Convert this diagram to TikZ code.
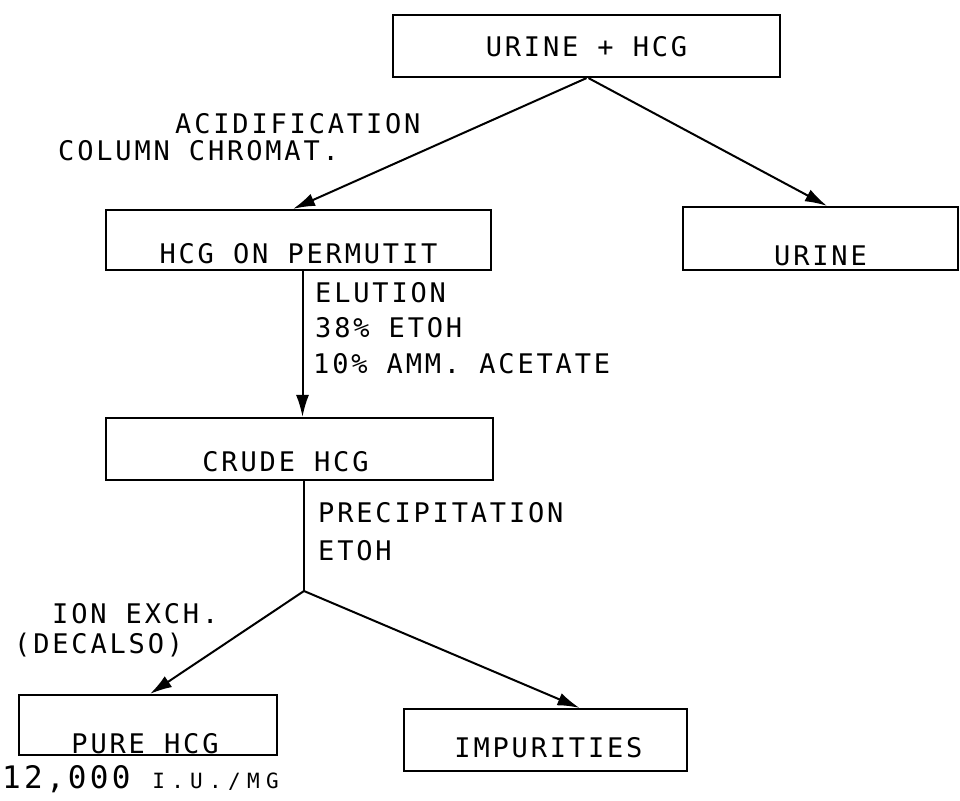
\documentclass[tikz,border=0pt]{standalone}
\usepackage{fontspec}
\newfontfamily\typer[LetterSpace=10.5]{DejaVu Sans Mono}
\newfontfamily\smalltyper[LetterSpace=30]{DejaVu Sans Mono}
\usetikzlibrary{arrows.meta,positioning}

\begin{document}
\begin{tikzpicture}[x=1pt, y=-1pt,
    every node/.style={font=\typer\fontsize{27}{32}\selectfont, inner sep=0pt},
    box/.style={draw, line width=2.2pt, rectangle},
    lbl/.style={anchor=base west},
    flow/.style={line width=2pt},
    feed/.style={flow, -{Latex[length=22pt,width=13pt]}}]
    \useasboundingbox (0,0) rectangle (960,800);

    % Boxes
    \node[box, minimum width=387pt, minimum height=62pt] (start) at (586.5,46) {};
    \node[box, minimum width=385pt, minimum height=60pt] (permutit) at (298.5,240) {};
    \node[box, minimum width=275pt, minimum height=63pt] (urine) at (820.5,238.5) {};
    \node[box, minimum width=387pt, minimum height=62pt] (crude) at (299.5,449) {};
    \node[box, minimum width=258pt, minimum height=60pt] (pure) at (148,725) {};
    \node[box, minimum width=283pt, minimum height=62pt] (impur) at (545.5,740) {};

    % Box texts
    \node[anchor=base] (starttxt) at ([yshift=22pt]start.south) {URINE + HCG};
    \node[anchor=base] (permutittxt) at ([yshift=8pt]permutit.south) {HCG ON PERMUTIT};
    \node[anchor=base] (urinetxt) at ([yshift=6pt]urine.south) {URINE};
    \node[anchor=base] (crudetxt) at ([xshift=-14pt,yshift=10pt]crude.south) {CRUDE HCG};
    \node[anchor=base] (puretxt) at ([xshift=-3pt,yshift=3pt]pure.south) {PURE HCG};
    \node[anchor=base] (impurtxt) at ([xshift=3pt,yshift=15pt]impur.south) {IMPURITIES};

    % Connectors
    \draw[feed] (start.south) -- ([xshift=-5.5pt]permutit.north);
    \draw[feed] ([xshift=2pt]start.south) -- ([xshift=6.5pt]urine.north);
    \draw[feed] ([xshift=4pt]permutit.south) -- ([xshift=4pt]permutit.south |- crude.north);
    \coordinate (split) at (304,591);
    \draw[flow] ([xshift=4.5pt]crude.south) -- (split);
    \draw[feed] (split) -- ([xshift=2pt]pure.north);
    \draw[feed] (split) -- ([xshift=34pt]impur.north);

    % Step labels
    \node[lbl] (acid) at (175,133) {ACIDIFICATION};
    \node[lbl] (column) at (58,160) {COLUMN CHROMAT.};
    \node[lbl] (elution) at (315,302) {ELUTION};
    \node[lbl] (etoha) at (315,337) {38\% ETOH};
    \node[lbl] (acetate) at (313,373) {10\% AMM. ACETATE};
    \node[lbl] (precip) at (318,522) {PRECIPITATION};
    \node[lbl] (etohb) at (318,560) {ETOH};
    \node[lbl] (ionex) at (52,623) {ION EXCH.};
    \node[lbl] (decalso) at (14,653) {(DECALSO)};

    % Yield under the pure box
    \node[lbl] (yield) at (2,788) {\fontsize{31}{34}\selectfont 12,000 \smalltyper\fontsize{21}{24}\selectfont I.U./MG};
\end{tikzpicture}
\end{document}
